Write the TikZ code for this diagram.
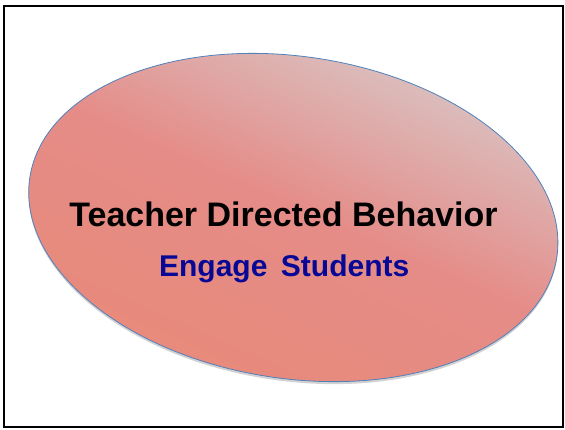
\documentclass[tikz,border=0pt]{standalone}
\usepackage{fontspec}
\setmainfont{Liberation Sans}
\usepackage{tikz}
\usetikzlibrary{shapes}
\usetikzlibrary{shapes.geometric}
\usetikzlibrary{shadows}
\definecolor{ovalline}{RGB}{79,129,189}
\definecolor{salmon}{RGB}{232,138,122}
\definecolor{salmonpink}{RGB}{229,140,136}
\definecolor{ashpink}{RGB}{216,200,200}
\definecolor{navytext}{RGB}{8,8,150}
\tikzstyle{oval}=[ellipse,draw=ovalline,line width=0.8pt,inner sep=0mm,minimum width=533pt,minimum height=322pt,shading=axis,top color=ashpink,bottom color=salmon,middle color=salmonpink,shading angle=-24,drop shadow={shadow xshift=0pt,shadow yshift=-2.5pt,fill=black!35,opacity=0.5}]
\tikzstyle{title}=[font=\bfseries\fontsize{34}{40}\selectfont,text=black,inner sep=0mm,anchor=base]
\tikzstyle{subtitle}=[font=\bfseries\fontsize{30}{36}\selectfont,text=navytext,inner sep=0mm,anchor=base]
\tikzset{every picture/.style={
    x=1pt,y=1pt
  }
}

\begin{document}
\begin{tikzpicture}
      \useasboundingbox (0,0) rectangle (565,429);
      \draw[line width=2pt] (3.5,423) rectangle (563,2);
      \node[oval,rotate=-8.6] at (293.3,211.5) (tdb) {};
      \node[title] at (283.5,202.3) (behavior) {Teacher Directed Behavior};
      \node[subtitle] at (284.2,152.3) (engage) {Engage\hspace{0.45em}Students};
    \end{tikzpicture}
\end{document}
